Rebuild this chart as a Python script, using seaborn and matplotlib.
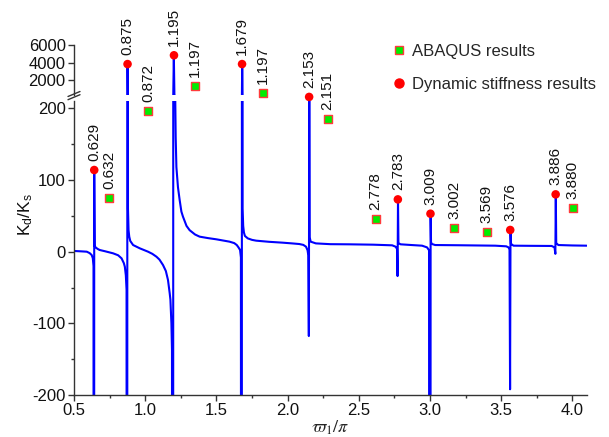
import numpy as np
import pandas as pd
import matplotlib
matplotlib.use('Agg')
import matplotlib.pyplot as plt
from matplotlib.lines import Line2D
from matplotlib.ticker import MultipleLocator, FixedLocator
import seaborn as sns

# ---------------- data ----------------
x_curve = [0.50, 0.55, 0.59, 0.61, 0.624, 0.632, 0.637, 0.640,
           0.642,
           0.645, 0.652, 0.665, 0.68, 0.72, 0.775, 0.81, 0.834, 0.850, 0.857, 0.864, 0.869, 0.873,
           0.876,
           0.879, 0.883, 0.888, 0.895, 0.915, 0.962, 1.02, 1.05, 1.079, 1.10, 1.125, 1.145, 1.16,
           1.172, 1.177, 1.184, 1.188, 1.194,
           1.201,
           1.205, 1.210, 1.214, 1.219, 1.230, 1.242, 1.254, 1.265, 1.29, 1.312, 1.35, 1.382, 1.44,
           1.499, 1.55, 1.592, 1.625, 1.643, 1.655, 1.666, 1.672, 1.677,
           1.681,
           1.684, 1.688, 1.693, 1.700, 1.72, 1.75, 1.779, 1.87, 1.965, 2.03, 2.082, 2.11, 2.129,
           2.140, 2.145, 2.149,
           2.152,
           2.155, 2.162, 2.198, 2.30, 2.431, 2.60, 2.734, 2.758, 2.768, 2.772,
           2.775,
           2.778, 2.793, 2.87, 2.944, 2.979, 2.993, 3.000,
           3.004,
           3.007, 3.014, 3.036, 3.20, 3.458, 3.535, 3.551, 3.558, 3.562,
           3.565,
           3.568, 3.586, 3.70, 3.854, 3.874, 3.880,
           3.883,
           3.886, 3.901, 4.0, 4.1]
y_curve = [1.0, 0.5, 0.0, -2.0, -4.6, -9.0, -20.0, -3000.0,
           114.0,
           8.0, 6.0, 4.0, 2.4, 0.5, -2.3, -5.0, -9.3, -16.0, -21.0, -33.0, -53.0, -3000.0,
           3850.0,
           60.0, 30.0, 21.0, 15.0, 9.3, 4.7, 0.0, -3.0, -7.0, -11.0, -18.6, -27.0, -39.5,
           -58.0, -67.0, -100.0, -137.0, -3000.0,
           4840.0,
           400.0, 230.0, 160.0, 118.0, 90.0, 72.0, 56.0, 49.0, 36.0, 30.0, 24.0, 21.0, 19.0,
           17.3, 15.5, 14.0, 12.0, 9.3, 6.0, 2.4, -8.0, -3000.0,
           3850.0,
           60.0, 36.0, 27.0, 22.0, 18.6, 16.5, 15.4, 13.8, 12.6, 11.6, 10.7, 9.5, 7.0,
           2.0, -5.0, -117.7,
           216.0,
           20.0, 14.0, 11.6, 10.5, 10.3, 9.8, 8.9, 7.0, 4.0, -34.0,
           73.0,
           12.0, 10.3, 9.3, 8.4, 6.0, 2.0, -3000.0,
           53.0,
           13.0, 10.7, 9.3, 9.0, 8.4, 7.5, 6.0, 3.0, -192.0,
           30.0,
           11.0, 8.4, 8.2, 8.0, 6.0, -3.0,
           80.0,
           12.0, 9.3, 8.7, 8.4]

abaqus_x = [0.747, 1.023, 1.347, 1.828, 2.280, 2.618, 3.171, 3.399, 4.001]
abaqus_y = [75.3, 196.6, 1414, 557, 185, 45.6, 33.5, 27.9, 61.4]
abaqus_labels = ['0.632', '0.872', '1.197', '1.197', '2.151', '2.778', '3.002', '3.569', '3.880']

ds_x = [0.642, 0.876, 1.202, 1.680, 2.151, 2.774, 3.003, 3.563, 3.882]
ds_y = [114, 3850, 4840, 3850, 216, 73, 53, 30.3, 80]
ds_labels = ['0.629', '0.875', '1.195', '1.679', '2.153', '2.783', '3.009', '3.576', '3.886']

x_ticks = [0.5, 1.0, 1.5, 2.0, 2.5, 3.0, 3.5, 4.0]
y_ticks_low = [-200, -100, 0, 100, 200]
y_ticks_high = [2000, 4000, 6000]

# ---------------- style ----------------
sns.set_theme(style='ticks')
plt.rcParams['font.family'] = ['Liberation Sans', 'DejaVu Sans']
plt.rcParams['axes.unicode_minus'] = False
plt.rcParams['mathtext.fontset'] = 'custom'
plt.rcParams['mathtext.rm'] = 'Liberation Sans'
plt.rcParams['mathtext.it'] = 'Liberation Sans:italic'

BLUE = '#0000ff'
RED = '#ff0000'
GREEN = '#00ee00'
EDGE = '#ff3b3b'

W, H = 609, 437
fig = plt.figure(figsize=(W / 100, H / 100), dpi=100)

def fx(px):
    return px / W

def fy(py):
    return 1 - py / H

left_px, right_px = 74, 586.7
lo_top, lo_bot = 100.7, 395
hi_top, hi_bot = 45, 95
ax_lo = fig.add_axes([fx(left_px), fy(lo_bot), (right_px - left_px) / W, (lo_bot - lo_top) / H])
ax_hi = fig.add_axes([fx(left_px), fy(hi_bot), (right_px - left_px) / W, (hi_bot - hi_top) / H])

curve = pd.DataFrame({'x': x_curve, 'y': y_curve})
ab = pd.DataFrame({'x': abaqus_x, 'y': abaqus_y, 'lab': abaqus_labels})
ds = pd.DataFrame({'x': ds_x, 'y': ds_y, 'lab': ds_labels})
SPLIT = 300

for ax in (ax_lo, ax_hi):
    sns.lineplot(data=curve, x='x', y='y', ax=ax, color=BLUE, linewidth=1.5,
                 estimator=None, sort=False, zorder=2)

for ax, sel_ab, sel_ds in ((ax_lo, ab[ab.y < SPLIT], ds[ds.y < SPLIT]),
                           (ax_hi, ab[ab.y >= SPLIT], ds[ds.y >= SPLIT])):
    sns.scatterplot(data=sel_ab, x='x', y='y', ax=ax, marker='s', s=32, color=GREEN,
                    edgecolor=EDGE, linewidth=1.0, zorder=4, clip_on=False)
    sns.scatterplot(data=sel_ds, x='x', y='y', ax=ax, marker='o', s=38, color=RED,
                    edgecolor='none', linewidth=0, zorder=4, clip_on=False)
    for df in (sel_ab, sel_ds):
        for _, r in df.iterrows():
            ax.annotate(r['lab'], (r['x'], r['y']), xytext=(0, 6.5), textcoords='offset points',
                        rotation=90, ha='center', va='bottom', fontsize=11, color='#111111',
                        annotation_clip=False)

# lower axes
ax_lo.set_xlim(0.5, 4.1)
ax_lo.set_ylim(-200, (251.7 - lo_top) * 1.3956)
ax_lo.xaxis.set_major_locator(FixedLocator(x_ticks))
ax_lo.xaxis.set_minor_locator(MultipleLocator(0.25))
ax_lo.yaxis.set_major_locator(FixedLocator(y_ticks_low))
ax_lo.yaxis.set_minor_locator(MultipleLocator(50))
ax_lo.set_xticklabels([f'{v:.1f}' for v in x_ticks])
ax_lo.set_yticklabels([str(v) for v in y_ticks_low])
for s in ('top', 'right'):
    ax_lo.spines[s].set_visible(False)
ax_lo.set_ylabel('')
ax_lo.set_xlabel(r'$\varpi_1/\pi$', fontsize=13, math_fontfamily='stix', labelpad=0)

# upper axes
ax_hi.set_xlim(0.5, 4.1)
ax_hi.set_ylim(2000 - (hi_bot - 80.5) * 112.7, 6000)
ax_hi.yaxis.set_major_locator(FixedLocator(y_ticks_high))
ax_hi.set_yticklabels([str(v) for v in y_ticks_high])
ax_hi.yaxis.set_minor_locator(FixedLocator([]))
for s in ('top', 'right', 'bottom'):
    ax_hi.spines[s].set_visible(False)
ax_hi.tick_params(axis='x', bottom=False, labelbottom=False, which='both')
ax_hi.set_xlabel('')
ax_hi.set_ylabel('')

for ax in (ax_lo, ax_hi):
    ax.set_facecolor('none')
    for s in ax.spines.values():
        s.set_color('#333333')
        s.set_linewidth(1.0)
    ax.tick_params(which='major', direction='out', length=4.5, width=1.0, color='#333333',
                   labelsize=12, labelcolor='#111111', pad=1.5)
    ax.tick_params(which='minor', direction='out', length=2.5, width=1.0, color='#333333')

# y label spanning both panels
fig.text(fx(26), fy(214), r'$\mathregular{K_d/K_s}$', rotation=90, ha='center', va='center',
         fontsize=12.5, color='#111111')

# axis break marks
for dy in (0, 3.2):
    fig.add_artist(Line2D([fx(68), fx(80)], [fy(96.5 + dy), fy(91.5 + dy)],
                          color='#333333', linewidth=1.0))

# legend
handles = [Line2D([], [], marker='s', ls='', markerfacecolor=GREEN, markeredgecolor=EDGE,
                  markeredgewidth=1.0, markersize=6),
           Line2D([], [], marker='o', ls='', color=RED, markersize=6.5)]
fig.legend(handles=handles, labels=['ABAQUS results', 'Dynamic stiffness results'],
           loc='upper left', bbox_to_anchor=(fx(392.3), fy(44.0)), frameon=False, fontsize=12,
           handlelength=0.8, handletextpad=0.37, labelspacing=1.1, borderpad=0,
           borderaxespad=0)

fig.savefig('out.png', dpi=100)
